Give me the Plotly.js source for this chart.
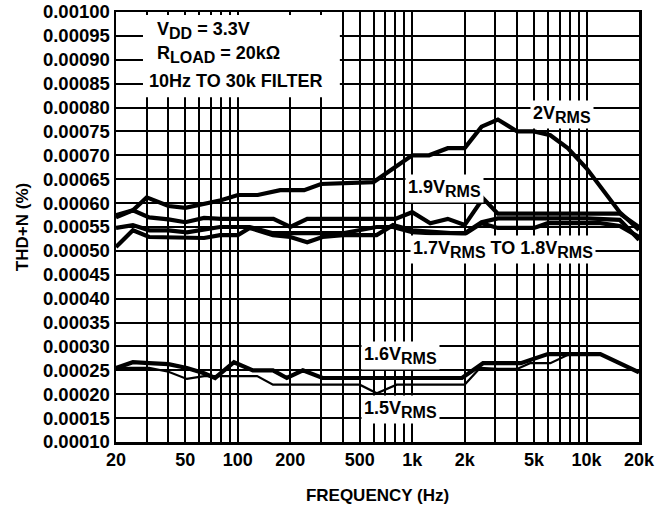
<!DOCTYPE html>
<html>
<head>
<meta charset="utf-8">
<script src="https://cdn.plot.ly/plotly-3.0.1.min.js"></script>
<style>html,body{margin:0;padding:0;background:#fff;}#chart{width:662px;height:510px;}</style>
</head>
<body>
<div id="chart"></div>
<script>
// ---- data ----
const f2V = [20, 25, 30, 40, 50, 65, 80, 100, 130, 175, 240, 300, 600, 1000, 1250, 1600, 2000, 2500, 3100, 4000, 5000, 6200, 7800, 10000, 12500, 15500, 20000];
const thd2V = [0.000575, 0.000585, 0.000612, 0.000594, 0.00059, 0.0006, 0.000606, 0.000617, 0.000617, 0.000627, 0.000627, 0.00064, 0.000644, 0.0007, 0.0007, 0.000715, 0.000715, 0.00076, 0.000775, 0.00075, 0.00075, 0.000742, 0.000715, 0.000673, 0.000627, 0.000581, 0.000544];

const f19V = [20, 25, 31, 40, 50, 64, 80, 100, 160, 200, 250, 400, 800, 1000, 1270, 1600, 2000, 2550, 3100, 5000, 10000, 15500, 20000];
const thd19V = [0.00057, 0.000585, 0.00057, 0.000566, 0.00056, 0.000569, 0.000567, 0.000567, 0.000567, 0.00055, 0.000567, 0.000567, 0.000567, 0.000581, 0.000558, 0.000567, 0.000554, 0.00061, 0.000578, 0.000578, 0.000578, 0.000578, 0.00055];

const f18V = [20, 25, 31, 40, 51, 79, 117, 159, 250, 400, 625, 776, 1000, 1270, 2000, 2500, 3100, 5000, 10000, 15500, 20000];
const thd18V = [0.000548, 0.000554, 0.000543, 0.000543, 0.000539, 0.00055, 0.00055, 0.000537, 0.000537, 0.000537, 0.00055, 0.00055, 0.000539, 0.000537, 0.000537, 0.00056, 0.000568, 0.000568, 0.000568, 0.000565, 0.000523];

const f17V = [20, 25, 31, 40, 64, 79, 100, 117, 159, 200, 250, 306, 400, 625, 776, 1000, 2000, 2500, 3100, 5000, 6000, 12000, 15500, 20000];
const thd17V = [0.000508, 0.000543, 0.000529, 0.000529, 0.000527, 0.000533, 0.000533, 0.000548, 0.000533, 0.000529, 0.000518, 0.000529, 0.000533, 0.000533, 0.000554, 0.000543, 0.000535, 0.000558, 0.000548, 0.000548, 0.000558, 0.000558, 0.000552, 0.000529];

const f16V = [20, 25, 31, 40, 51, 64, 74, 95, 122, 159, 191, 236, 306, 627, 1930, 2550, 2930, 4200, 6000, 12000, 20000];
const thd16V = [0.000255, 0.000267, 0.000265, 0.000263, 0.000255, 0.000244, 0.000234, 0.000267, 0.00025, 0.00025, 0.000234, 0.00025, 0.000234, 0.000234, 0.000234, 0.000265, 0.000265, 0.000265, 0.000284, 0.000284, 0.000246];

const f15V = [20, 31, 40, 51, 64, 129, 159, 500, 627, 815, 2000, 2450, 3100, 4000, 4740, 6200, 8000, 12000, 20000];
const thd15V = [0.000255, 0.000255, 0.000247, 0.000232, 0.000238, 0.000238, 0.00022, 0.00022, 0.000202, 0.00022, 0.00022, 0.000255, 0.000253, 0.000253, 0.000265, 0.000265, 0.000284, 0.000284, 0.000246];

const xTickVals = [20, 50, 100, 200, 500, 1000, 2000, 5000, 10000, 20000];
const xTickText = ['20', '50', '100', '200', '500', '1k', '2k', '5k', '10k', '20k'];
const xMinorGrid = [30, 40, 60, 70, 80, 90, 300, 400, 600, 700, 800, 900, 3000, 4000, 6000, 7000, 8000, 9000];
const yTicks = [0.0001, 0.00015, 0.0002, 0.00025, 0.0003, 0.00035, 0.0004, 0.00045, 0.0005, 0.00055, 0.0006, 0.00065, 0.0007, 0.00075, 0.0008, 0.00085, 0.0009, 0.00095, 0.001];

// ---- traces ----
const FONT = 'Liberation Sans, Arial, Helvetica, sans-serif';
function tr(x, y, w) {
  return {x: x, y: y, type: 'scatter', mode: 'lines', line: {color: '#000', width: w}, showlegend: false, hoverinfo: 'skip'};
}
const data = [
  tr(f15V, thd15V, 2.2),
  tr(f16V, thd16V, 4.2),
  tr(f17V, thd17V, 4.2),
  tr(f18V, thd18V, 4.2),
  tr(f19V, thd19V, 4.2),
  tr(f2V, thd2V, 4.2)
];

const sub = (s, px) => '<sub><span style="font-size:' + px + 'px">' + s + '</span></sub>';
const lbl = (text, fx, y) => ({
  text: text, xref: 'x', yref: 'y', x: Math.log10(fx), y: y, showarrow: false,
  bgcolor: '#fff', borderpad: 2, font: {family: FONT, size: 18, color: '#000', weight: 'bold'}
});
const hdr = (text, px, py) => ({
  text: text, xref: 'paper', yref: 'paper', x: px, y: py, xanchor: 'left', yanchor: 'middle', showarrow: false,
  font: {family: FONT, size: 18, color: '#000', weight: 'bold'}
});

const layout = {
  width: 662, height: 510,
  margin: {l: 116, r: 23, t: 12, b: 68},
  paper_bgcolor: '#fff', plot_bgcolor: '#fff',
  font: {family: FONT, color: '#000'},
  xaxis: {
    type: 'log', range: [Math.log10(20), Math.log10(20000)],
    tickmode: 'array', tickvals: xTickVals, ticktext: xTickText,
    showgrid: true, gridcolor: '#000', gridwidth: 2,
    minor: {tickmode: 'array', tickvals: xMinorGrid, showgrid: true, gridcolor: '#000', gridwidth: 2, ticks: ''},
    showline: true, linecolor: '#000', linewidth: 2.5, mirror: true,
    ticks: '', zeroline: false,
    tickfont: {family: FONT, size: 18, color: '#000', weight: 'bold'},
    title: {text: 'FREQUENCY (Hz)', font: {family: FONT, size: 17, color: '#000', weight: 'bold'}, standoff: 20}
  },
  yaxis: {
    range: [0.0001, 0.001],
    tickmode: 'array', tickvals: yTicks, ticktext: yTicks.map(v => v.toFixed(5)),
    showgrid: true, gridcolor: '#000', gridwidth: 2,
    showline: true, linecolor: '#000', linewidth: 2.5, mirror: true,
    ticks: '', zeroline: false,
    tickfont: {family: FONT, size: 18.5, color: '#000', weight: 'bold'},
    title: {text: 'THD+N (%)', font: {family: FONT, size: 17, color: '#000', weight: 'bold'}, standoff: 10}
  },
  shapes: [{
    type: 'rect', xref: 'paper', yref: 'paper', x0: 0.0516, x1: 0.428, y0: 0.802, y1: 0.993,
    fillcolor: '#fff', line: {width: 0}, layer: 'above'
  }],
  annotations: [
    hdr('V' + sub('DD', 16) + ' = 3.3V', 0.0746, 0.958),
    hdr('R' + sub('LOAD', 16) + ' = 20kΩ', 0.0746, 0.9),
    hdr('10Hz TO 30k FILTER', 0.0593, 0.8395),
    lbl('2V' + sub('RMS', 16), 7245, 0.000786),
    lbl('1.9V' + sub('RMS', 16), 1523, 0.000631),
    lbl('1.7V' + sub('RMS', 16) + ' TO 1.8V' + sub('RMS', 16), 3321, 0.000502),
    lbl('1.6V' + sub('RMS', 16), 852, 0.000282),
    lbl('1.5V' + sub('RMS', 16), 852, 0.000169)
  ]
};

Plotly.newPlot('chart', data, layout, {displayModeBar: false, staticPlot: true});
</script>
</body>
</html>
